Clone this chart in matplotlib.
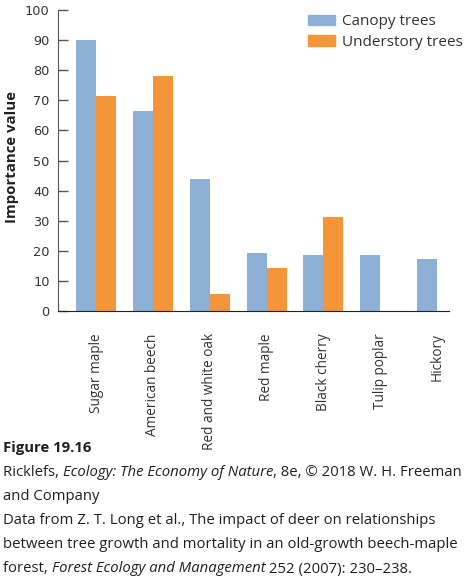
import numpy as np
import matplotlib.pyplot as plt
from matplotlib.patches import Patch

species = ["Sugar maple", "American beech", "Red and white oak", "Red maple",
           "Black cherry", "Tulip poplar", "Hickory"]
canopy = [90, 66.5, 43.8, 19.4, 18.7, 18.7, 17.2]
understory = [71.5, 78, 5.5, 14.4, 31.1, 0, 0]

BLUE = '#8DB0D6'
ORANGE = '#F5953A'
TXT = '#231F20'
FONT = 'Open Sans'

plt.rcParams['font.family'] = FONT

W, H = 465, 583
fig = plt.figure(figsize=(W / 100, H / 100), dpi=100)
ax = fig.add_axes([58 / W, 1 - 311 / H, (449 - 58) / W, (311 - 10) / H])

x = np.arange(len(species))
w = 0.352
ax.bar(x - w / 2, canopy, w, color=BLUE, label='Canopy trees')
ax.bar(x + w / 2, understory, w, color=ORANGE, label='Understory trees')

ax.set_xlim(-0.67, 6.21)
ax.set_ylim(0, 100)
ax.set_yticks(np.arange(0, 101, 10))
ax.tick_params(axis='y', direction='in', length=7, width=1, color='#555555',
               pad=6, labelsize=9.3, labelcolor='#333333')
for lb in ax.get_yticklabels():
    lb.set_fontfamily('DejaVu Sans')
ax.set_xticks(x)
ax.set_xticklabels(species, rotation=90, fontsize=9.8, color='#333333')
ax.tick_params(axis='x', length=0, pad=16)
for s in ['top', 'right']:
    ax.spines[s].set_visible(False)
ax.spines['left'].set_color('#555555')
ax.spines['bottom'].set_color('#222222')
fig.text(12 / W, 1 - 157 / H, 'Importance value', rotation=90, fontsize=10.8,
         fontweight='bold', color=TXT, ha='center', va='center')

handles = [Patch(color=BLUE, label='Canopy trees'),
           Patch(color=ORANGE, label='Understory trees')]
fig.legend(handles=handles, loc='upper left', bbox_to_anchor=(296 / W, 1 - 2 / H),
           frameon=False, fontsize=11, handlelength=1.75, handleheight=0.7,
           handletextpad=0.45, labelspacing=0.35, borderpad=0.3,
           labelcolor='#333333')

# caption, with italic pieces placed one after another
caption = [
    [("Figure 19.16", 'normal', 'bold')],
    [("Ricklefs, ", 'normal', 'normal'),
     ("Ecology: The Economy of Nature", 'italic', 'normal'),
     (", 8e, \u00a9 2018 W. H. Freeman", 'normal', 'normal')],
    [("and Company", 'normal', 'normal')],
    [("Data from Z. T. Long et al., The impact of deer on relationships", 'normal', 'normal')],
    [("between tree growth and mortality in an old-growth beech-maple", 'normal', 'normal')],
    [("forest, ", 'normal', 'normal'),
     ("Forest Ecology and Management", 'italic', 'normal'),
     (" 252 (2007): 230\u2013238.", 'normal', 'normal')],
]
line_y = [448, 472, 496, 521, 545, 569]

fig.canvas.draw()
r = fig.canvas.get_renderer()
for parts, yy in zip(caption, line_y):
    xp = 3
    for txt, style, weight in parts:
        t = fig.text(xp / W, 1 - yy / H, txt, fontsize=10.7, style=style,
                     fontweight=weight, color=TXT, va='center', ha='left',
                     fontfamily=FONT)
        bb = t.get_window_extent(renderer=r)
        xp = bb.x1

fig.savefig('out.png', dpi=100)
